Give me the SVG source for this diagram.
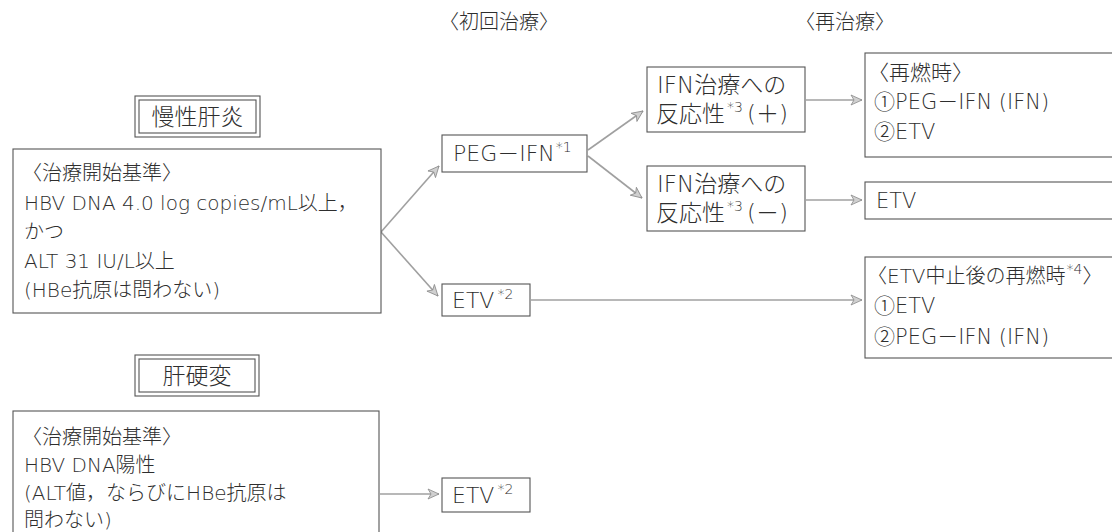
<svg xmlns="http://www.w3.org/2000/svg" width="1112" height="532" viewBox="0 0 1112 532">
  <defs>
    <style>
      .t { font-family: "DejaVu Sans", "Noto Sans CJK JP", sans-serif; font-size: 20px; fill: #2e2e2e; font-weight: 200; }
      .m { font-size: 22px; }
      .l { font-size: 23px; }
      .r { font-size: 21px; }
      .title { font-size: 23px; }
      .sup { font-size: 14px; }
      .box { fill: #fff; stroke: #555; stroke-width: 1.1; }
      .conn { stroke: #a0a0a0; stroke-width: 1.6; fill: none; marker-end: url(#arr); }
    </style>
    <marker id="arr" markerWidth="14" markerHeight="12" refX="12" refY="6" orient="auto" markerUnits="userSpaceOnUse">
      <path d="M1,1 L12,6 L1,11 L4,6 z" fill="#d0d0d0" stroke="#8a8a8a" stroke-width="0.8"/>
    </marker>
  </defs>
  <rect width="1112" height="532" fill="#fff"/>

  <g id="headers">
    <text class="t" x="499" y="29" text-anchor="middle">〈初回治療〉</text>
    <text class="t" x="845" y="29" text-anchor="middle">〈再治療〉</text>
  </g>

  <g id="connectors">
    <line class="conn" x1="381" y1="232" x2="439" y2="166"/>
    <line class="conn" x1="381" y1="232" x2="438" y2="296"/>
    <line class="conn" x1="588" y1="150" x2="643" y2="111"/>
    <line class="conn" x1="588" y1="156" x2="642" y2="198"/>
    <line class="conn" x1="806" y1="100" x2="862" y2="100"/>
    <line class="conn" x1="806" y1="200" x2="862" y2="200"/>
    <line class="conn" x1="531" y1="300" x2="862" y2="300"/>
    <line class="conn" x1="380" y1="494" x2="439" y2="494"/>
  </g>

  <g id="title-chronic">
    <rect class="box" x="135" y="96" width="125" height="41"/>
    <rect class="box" x="139" y="100" width="117" height="33"/>
    <text class="t title" x="197.5" y="125" text-anchor="middle">慢性肝炎</text>
  </g>

  <g id="criteria-chronic">
    <rect class="box" x="13" y="149" width="368" height="164"/>
    <text class="t" x="22" y="180">〈治療開始基準〉</text>
    <text class="t" x="24" y="210">HBV DNA 4.0 log copies/mL以上，</text>
    <text class="t" x="24" y="239">かつ</text>
    <text class="t" x="24" y="268">ALT 31 IU/L以上</text>
    <text class="t" x="24" y="297">(HBe抗原は問わない)</text>
  </g>

  <g id="peg-ifn">
    <rect class="box" x="442" y="135" width="145" height="37"/>
    <text class="t m" x="453" y="161">PEG－IFN<tspan class="sup" dx="1" dy="-9">*1</tspan></text>
  </g>

  <g id="etv-chronic">
    <rect class="box" x="442" y="284" width="88" height="32"/>
    <text class="t m" x="452" y="308">ETV<tspan class="sup" dx="3" dy="-9">*2</tspan></text>
  </g>

  <g id="ifn-plus">
    <rect class="box" x="647" y="67" width="158" height="65"/>
    <text class="t l" x="657" y="93">IFN治療への</text>
    <text class="t l" x="656" y="122">反応性<tspan class="sup" dx="2" dy="-10">*3</tspan><tspan dx="4" dy="10">(＋)</tspan></text>
  </g>

  <g id="ifn-minus">
    <rect class="box" x="647" y="166" width="158" height="65"/>
    <text class="t l" x="657" y="192">IFN治療への</text>
    <text class="t l" x="656" y="221">反応性<tspan class="sup" dx="2" dy="-10">*3</tspan><tspan dx="4" dy="10">(－)</tspan></text>
  </g>

  <g id="relapse">
    <rect class="box" x="865" y="53" width="260" height="104"/>
    <text class="t r" x="868" y="80">〈再燃時〉</text>
    <text class="t r" x="874" y="109">①PEG－IFN (IFN)</text>
    <text class="t r" x="874" y="139">②ETV</text>
  </g>

  <g id="etv-retreat">
    <rect class="box" x="865" y="182" width="260" height="37"/>
    <text class="t r" x="876" y="208">ETV</text>
  </g>

  <g id="relapse-after-etv">
    <rect class="box" x="865" y="257" width="260" height="101"/>
    <text class="t" x="867" y="283">〈ETV中止後の再燃時<tspan class="sup" dx="1" dy="-9">*4</tspan><tspan dy="9">〉</tspan></text>
    <text class="t r" x="874" y="313">①ETV</text>
    <text class="t r" x="874" y="344">②PEG－IFN (IFN)</text>
  </g>

  <g id="title-cirrhosis">
    <rect class="box" x="135" y="355" width="124" height="41"/>
    <rect class="box" x="139" y="359" width="116" height="33"/>
    <text class="t title" x="197" y="384" text-anchor="middle">肝硬変</text>
  </g>

  <g id="criteria-cirrhosis">
    <rect class="box" x="13" y="411" width="366" height="130"/>
    <text class="t" x="22" y="444">〈治療開始基準〉</text>
    <text class="t" x="24" y="472">HBV DNA陽性</text>
    <text class="t" x="24" y="500">(ALT値，ならびにHBe抗原は</text>
    <text class="t" x="24" y="527">問わない)</text>
  </g>

  <g id="etv-cirrhosis">
    <rect class="box" x="442" y="478" width="88" height="34"/>
    <text class="t m" x="452" y="503">ETV<tspan class="sup" dx="3" dy="-9">*2</tspan></text>
  </g>
</svg>
